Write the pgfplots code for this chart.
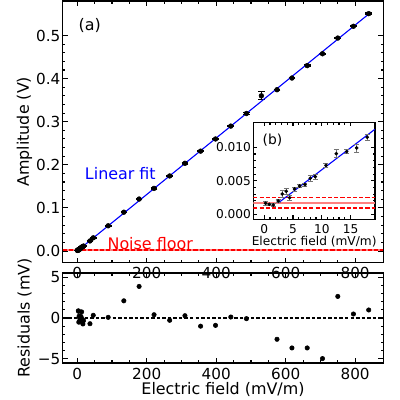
\documentclass[border=0pt]{standalone}
\usepackage{fontspec}
\setmainfont{DejaVu Sans}
\usepackage{pgfplots}
\usepackage{pgfplotstable}
\pgfplotsset{compat=1.18}
\definecolor{floorred}{RGB}{255,128,128}

% amplitude vs field, with error
\pgfplotstableread{
x y ey
0.24 0.00164 0.0003
0.87 0.00149 0.0002
1.57 0.00139 0.0002
2.43 0.00199 0.0002
3.13 0.00303 0.0005
3.83 0.00343 0.0005
4.41 0.00248 0.0004
5.28 0.00378 0.0003
6.15 0.00422 0.0002
7.08 0.00442 0.0002
8.00 0.00537 0.0004
8.87 0.00562 0.0004
10.73 0.00731 0.0003
12.52 0.00905 0.0006
14.33 0.00935 0.0003
16.07 0.00990 0.0006
17.90 0.01150 0.0004
36.5 0.02331 0.0015
46 0.03056 0.0015
89 0.05848 0.0015
134 0.08997 0.0015
178 0.12055 0.0015
221 0.14526 0.0015
266 0.17405 0.0015
310 0.20343 0.0015
355 0.23163 0.0015
398 0.25989 0.0015
442 0.28973 0.0015
487 0.31901 0.0015
530 0.36000 0.0090
575 0.37413 0.0015
618 0.40123 0.0015
662 0.43005 0.0015
706 0.45757 0.0015
750 0.49399 0.0015
795 0.52132 0.0015
839 0.55063 0.0015
}\maindata

% residuals in mV
\pgfplotstableread{
x r
3.13 0.88
3.83 0.82
4.41 -0.51
5.28 0.22
6.15 0.09
7.08 -0.32
8.00 0.03
8.87 -0.29
10.73 0.18
12.52 0.75
14.33 -0.14
16.07 -0.73
17.90 -0.32
36.5 -0.70
46 0.33
89 0.08
134 2.10
178 3.86
221 0.40
266 -0.28
310 0.28
355 -1.00
398 -0.90
442 0.12
487 -0.08
575 -2.60
618 -3.66
662 -3.66
706 -4.96
750 2.64
795 0.49
839 0.98
}\resdata

\pgfplotsset{
  every axis/.append style={
    scale only axis, anchor=south west,
    tick align=inside, tick pos=both,
    axis line style={line width=1.1pt},
    tick style={black, line width=0.8pt},
    major tick length=3.6pt, minor tick length=2pt,
    /pgf/number format/assume math mode=true,
    tick label style={font=\fontsize{11}{13}\selectfont},
    label style={font=\fontsize{11.5}{14}\selectfont},
    yticklabel style={inner xsep=1.5pt},
  },
}

\begin{document}
\begin{tikzpicture}
% main panel
\begin{axis}[
  at={(45.31pt,99.37pt)}, width=231.7pt, height=188.99pt,
  xmin=-42, xmax=881, ymin=-0.0267, ymax=0.580,
  xtick={0,200,400,600,800}, xticklabel={}, minor x tick num=3,
  ytick={0,0.1,0.2,0.3,0.4,0.5}, minor y tick num=4,
  scaled y ticks=false,
  yticklabel style={/pgf/number format/.cd, fixed, fixed zerofill, precision=1},
  ylabel={Amplitude (V)},
  ylabel style={at={(axis description cs:-0.119,0.5)}, anchor=center},
]
\addplot[floorred, line width=1.6pt] coordinates {(-42,0.00173) (881,0.00173)};
\addplot[red, line width=0.9pt, dash pattern=on 3pt off 1.5pt] coordinates {(-42,0.00254) (881,0.00254)};
\addplot[red, line width=0.9pt, dash pattern=on 3pt off 1.5pt] coordinates {(-42,0.00094) (881,0.00094)};
\addplot[black, only marks, mark=*, mark size=1.7pt,
  error bars/.cd, y dir=both, y explicit,
  error bar style={line width=0.8pt},
  error mark options={rotate=90, mark size=2.4pt, line width=0.8pt}]
  table[x=x, y=y, y error=ey] {\maindata};
\addplot[blue, line width=0.8pt] coordinates {(2.43,0.00169) (839,0.5497)};
\node[font=\fontsize{11.5}{14}\selectfont] at (axis cs:35.6,0.5225) {(a)};
\node[blue, font=\fontsize{11.5}{14}\selectfont] at (axis cs:124,0.179) {Linear fit};
\node[red, font=\fontsize{11.5}{14}\selectfont] at (axis cs:210,0.018) {Noise floor};
\end{axis}

% residuals
\begin{axis}[
  at={(45.31pt,26.74pt)}, width=231.7pt, height=65.04pt,
  xmin=-42, xmax=881, ymin=-5.5, ymax=5.5,
  xtick={0,200,400,600,800}, minor x tick num=3,
  ytick={-5,0,5}, yticklabels={−5,0,5}, minor y tick num=4,
  xlabel={Electric field (mV/m)},
  xlabel style={at={(axis description cs:0.5,-0.30)}, anchor=center},
  ylabel={Residuals (mV)},
  ylabel style={at={(axis description cs:-0.119,0.5)}, anchor=center},
]
\addplot[black, line width=0.8pt, dash pattern=on 2.5pt off 1.5pt] coordinates {(-42,0) (881,0)};
\addplot[black, only marks, mark=*, mark size=1.6pt] table[x=x, y=r] {\resdata};
\end{axis}

% inset
\begin{axis}[
  at={(183.06pt,130.59pt)}, width=87.95pt, height=70.10pt,
  axis background/.style={fill=white},
  xmin=-1.9, xmax=19.25, ymin=-0.00075, ymax=0.01373,
  xtick={0,5,10,15}, minor x tick num=4,
  ytick={0,0.005,0.01}, minor y tick num=4,
  scaled y ticks=false,
  yticklabel style={/pgf/number format/.cd, fixed, fixed zerofill, precision=3},
  tick label style={font=\fontsize{8.8}{10}\selectfont},
  label style={font=\fontsize{8.8}{10}\selectfont},
  major tick length=3pt, minor tick length=1.7pt,
  xlabel={Electric field (mV/m)},
  xlabel style={at={(axis description cs:0.5,-0.231)}, anchor=center},
]
\addplot[floorred, line width=1.6pt] coordinates {(-1.9,0.00173) (19.25,0.00173)};
\addplot[red, line width=0.8pt, dash pattern=on 3pt off 1.5pt] coordinates {(-1.9,0.00254) (19.25,0.00254)};
\addplot[red, line width=0.8pt, dash pattern=on 3pt off 1.5pt] coordinates {(-1.9,0.00094) (19.25,0.00094)};
\addplot[blue, line width=0.8pt] coordinates {(2.43,0.00169) (19.25,0.0127)};
\addplot[black, only marks, mark=*, mark size=1.1pt, restrict x to domain=-2:19,
  error bars/.cd, y dir=both, y explicit,
  error bar style={black!55, line width=0.6pt},
  error mark options={rotate=90, mark size=1.8pt, black!55, line width=0.6pt}]
  table[x=x, y=y, y error=ey] {\maindata};
\node[font=\fontsize{10}{12}\selectfont] at (axis cs:1.43,0.01109) {(b)};
\end{axis}

\pgfresetboundingbox
\useasboundingbox (0,0) rectangle (289.08pt,289.08pt);
\end{tikzpicture}
\end{document}
